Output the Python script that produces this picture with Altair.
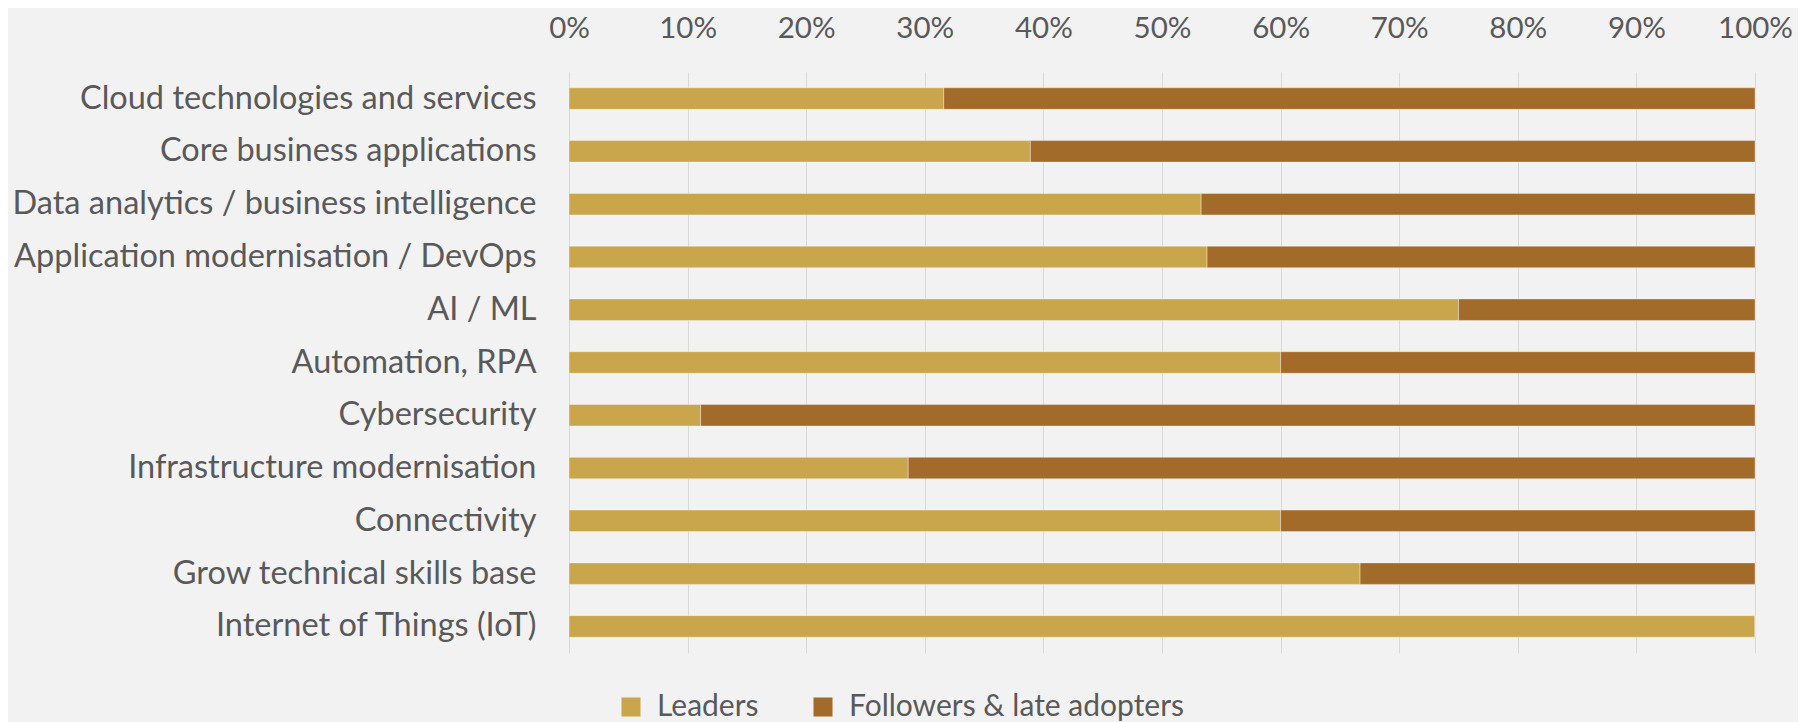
import altair as alt
import pandas as pd

categories = [
    "Cloud technologies and services",
    "Core business applications",
    "Data analytics / business intelligence",
    "Application modernisation / DevOps",
    "AI / ML",
    "Automation, RPA",
    "Cybersecurity",
    "Infrastructure modernisation",
    "Connectivity",
    "Grow technical skills base",
    "Internet of Things (IoT)",
]
leaders = [31.6, 38.9, 53.3, 53.8, 75.0, 60.0, 11.1, 28.6, 60.0, 66.7, 100.0]
followers = [68.4, 61.1, 46.7, 46.2, 25.0, 40.0, 88.9, 71.4, 40.0, 33.3, 0.0]
series = ["Leaders", "Followers & late adopters"]
colors = ["#C9A54B", "#A26B29"]

rows = []
for c, l, f in zip(categories, leaders, followers):
    rows.append({"category": c, "series": series[0], "value": l / 100, "ord": 0})
    rows.append({"category": c, "series": series[1], "value": f / 100, "ord": 1})
df = pd.DataFrame(rows)

FONT = "Lato"
GREY = "#595959"

chart = (
    alt.Chart(df)
    .mark_bar(stroke="#ffffff", strokeWidth=0.8, strokeOpacity=0.45)
    .encode(
        x=alt.X(
            "value:Q",
            stack="zero",
            scale=alt.Scale(domain=[0, 1], nice=False),
            axis=alt.Axis(
                orient="top",
                format=".0%",
                values=[i / 10 for i in range(11)],
                domain=False,
                ticks=False,
                tickSize=0,
                labelPadding=35,
                labelBaseline="alphabetic",
                labelFlush=False,
                labelOverlap=False,
                labelFont=FONT,
                labelFontSize=29.5,
                labelColor=GREY,
                gridColor="#d9d9d9",
                gridWidth=1,
                title=None,
            ),
        ),
        y=alt.Y(
            "category:N",
            sort=categories,
            scale=alt.Scale(paddingInner=0.593, paddingOuter=0.3),
            axis=alt.Axis(
                domain=False,
                ticks=False,
                tickSize=0,
                labelPadding=33,
                labelFont=FONT,
                labelFontSize=32.5,
                labelColor=GREY,
                labelLimit=700,
                title=None,
            ),
        ),
        color=alt.Color(
            "series:N",
            scale=alt.Scale(domain=series, range=colors),
            legend=alt.Legend(
                title=None,
                orient="none",
                direction="horizontal",
                legendX=47,
                legendY=620,
                padding=0,
                symbolType="square",
                symbolSize=361,
                symbolStrokeWidth=0,
                symbolOpacity=1,
                labelFont=FONT,
                labelFontSize=30,
                labelColor=GREY,
                labelLimit=700,
                labelOffset=11,
                columnPadding=49,
            ),
        ),
        order=alt.Order("ord:Q"),
    )
    .properties(
        width=1186,
        height=581,
        background="#f2f2f2",
        padding={"left": 561, "top": 64, "right": 43, "bottom": 69},
        autosize=alt.AutoSizeParams(type="none"),
    )
    .configure_view(stroke=None)
)

chart.save("out.html", embed_options={"renderer": "svg", "actions": False})
